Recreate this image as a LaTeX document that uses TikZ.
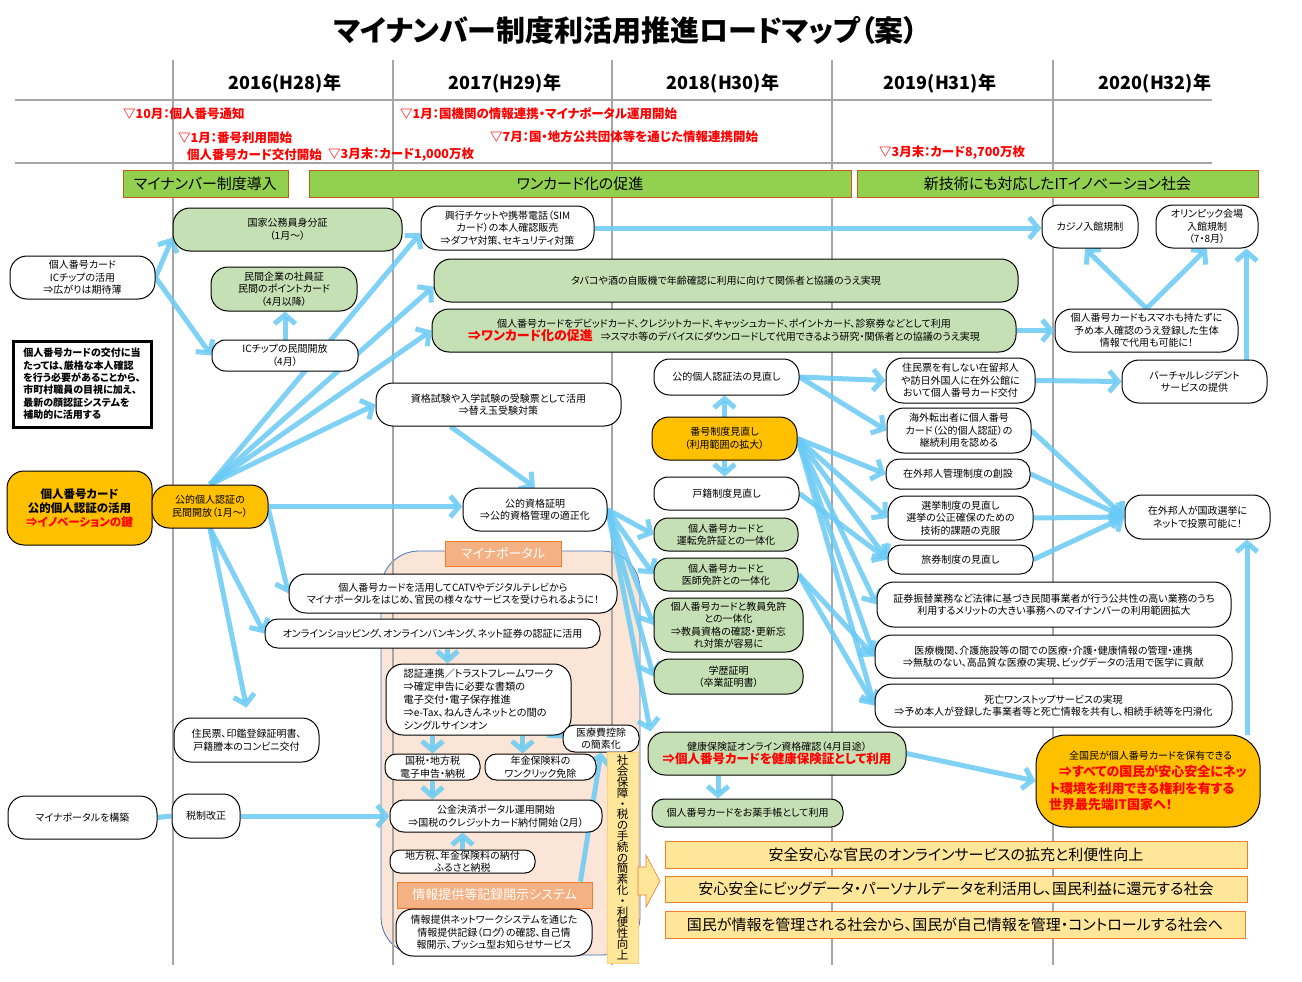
\documentclass[tikz,border=0pt]{standalone}
\usepackage{fontspec}
\setmainfont{Noto Sans CJK JP}[RawFeature={+palt}]
\usetikzlibrary{arrows.meta,calc}
\pgfdeclarelayer{bg}
\pgfdeclarelayer{arrl}
\pgfsetlayers{bg,arrl,main}
\definecolor{abl}{RGB}{105,203,245}
\definecolor{gfill}{RGB}{197,224,180}
\definecolor{ofill}{RGB}{255,192,0}
\definecolor{phase}{RGB}{146,208,80}
\definecolor{phaseb}{RGB}{197,90,17}
\definecolor{yfill}{RGB}{255,230,153}
\definecolor{yborder}{RGB}{237,125,49}
\definecolor{peach}{RGB}{251,229,214}
\definecolor{peachb}{RGB}{68,114,196}
\definecolor{lblfill}{RGB}{244,177,131}
\definecolor{gline}{RGB}{166,166,166}
\definecolor{mred}{RGB}{255,0,0}
\newcommand\RMbox[7]{%
 \pgfmathsetmacro\bxcx{(#2+#4)/2}%
 \pgfmathsetmacro\bxcy{(#3+#5)/2}%
 \pgfmathsetmacro\bxw{#4-#2}%
 \pgfmathsetmacro\bxh{#5-#3}%
 \pgfmathsetmacro\bxr{min(17,\bxh/2.3)}%
 \node[rounded corners=\bxr pt, #6, minimum width=\bxw pt, minimum height=\bxh pt] (#1) at (\bxcx,\bxcy) {#7};}
\tikzset{
 bsty/.style={align=center, inner sep=0pt, font=\fontsize{10}{12.5}\selectfont, line width=1pt},
 boxw/.style={bsty, draw, fill=white},
 boxg/.style={bsty, draw, fill=gfill},
 boxo/.style={bsty, draw, fill=ofill},
 phbar/.style={sharp corners, draw=phaseb, fill=phase, line width=1pt, inner sep=0pt, font=\fontsize{15}{17}\selectfont},
 ybar/.style={sharp corners, draw=yborder, fill=yfill, line width=1pt, inner sep=0pt, font=\fontsize{15}{17}\selectfont},
 lblbox/.style={sharp corners, draw=yborder, fill=lblfill, text=white, inner sep=0pt, line width=0.8pt, font=\fontsize{13}{15}\selectfont},
 redtxt/.style={text=mred, font=\bfseries\fontsize{12.5}{14}\selectfont, anchor=west, inner sep=0pt},
 yeartxt/.style={font=\bfseries\fontsize{18}{20}\selectfont, inner sep=0pt},
 barr/.style={draw=abl, line width=5pt, draw opacity=0.85, -{Straight Barb[length=9pt,width=21pt]}},
 bline/.style={draw=abl, line width=5pt, draw opacity=0.85},
}
\begin{document}
\begin{tikzpicture}[x=1pt,y=-1pt]
\useasboundingbox (0,0) rectangle (1302,982);
\begin{pgfonlayer}{bg}
\fill[white] (0,0) rectangle (1302,982);
\draw[fill=peach, draw=peachb, line width=0.8pt, rounded corners=38pt] (381,551) rectangle (640,955);
\foreach \xx in {173,393,612,832,1053} \draw[gline, line width=1.5pt] (\xx,60) -- (\xx,965);
\draw[gline, line width=2pt] (15,100) -- (1212,100);
\draw[gline, line width=2pt] (15,163) -- (1212,163);
\end{pgfonlayer}

\node[font=\bfseries\fontsize{29}{33}\selectfont] (title) at (626,30) {マイナンバー制度利活用推進ロードマップ（案）};
\node[yeartxt] (y16) at (285,84) {2016(H28)年};
\node[yeartxt] (y17) at (505,84) {2017(H29)年};
\node[yeartxt] (y18) at (723,84) {2018(H30)年};
\node[yeartxt] (y19) at (940,84) {2019(H31)年};
\node[yeartxt] (y20) at (1155,84) {2020(H32)年};

\node[redtxt] (m1) at (123,114) {▽10月：個人番号通知};
\node[redtxt] (m2) at (178,138) {▽1月：番号利用開始};
\node[redtxt] (m3) at (187,155) {個人番号カード交付開始};
\node[redtxt] (m4) at (328,155) {▽3月末：カード1,000万枚};
\node[redtxt] (m5) at (400,114) {▽1月：国機関の情報連携・マイナポータル運用開始};
\node[redtxt] (m6) at (490,137) {▽7月：国・地方公共団体等を通じた情報連携開始};
\node[redtxt] (m7) at (879,153) {▽3月末：カード8,700万枚};

\RMbox{p1}{123}{170}{288}{197}{phbar}{マイナンバー制度導入}
\RMbox{p2}{309}{170}{851}{197}{phbar}{ワンカード化の促進}
\RMbox{p3}{857}{170}{1258}{197}{phbar}{新技術にも対応したITイノベーション社会}

\RMbox{ic}{10}{256}{155}{299}{boxw}{個人番号カード\\ICチップの活用\\⇒広がりは期待薄}
\RMbox{kokka}{173}{208}{402}{251}{boxg}{国家公務員身分証\\（1月～）}
\RMbox{minkan}{211}{267}{357}{311}{boxg}{民間企業の社員証\\民間のポイントカード\\（4月以降）}
\RMbox{icopen}{212}{340}{358}{371}{boxw}{ICチップの民間開放\\（4月）}
\RMbox{note}{13}{341}{151}{427}{sharp corners, draw, fill=white, line width=3pt, align=left, inner sep=0pt, font=\bfseries\fontsize{10}{12.4}\selectfont}{個人番号カードの交付に当\\たっては、厳格な本人確認\\を行う必要があることから、\\市町村職員の目視に加え、\\最新の顔認証システムを\\補助的に活用する}
\RMbox{key}{7}{471}{152}{545}{boxo, font=\bfseries\fontsize{11.5}{14}\selectfont}{個人番号カード\\公的個人認証の活用\\{\color{mred}⇒イノベーションの鍵}}
\RMbox{jpki}{152}{485}{268}{528}{boxo}{公的個人認証の\\民間開放（1月～）}
\RMbox{ticket}{421}{206}{594}{250}{boxw}{興行チケットや携帯電話（SIM\\カード）の本人確認販売\\⇒ダフヤ対策、セキュリティ対策}
\RMbox{tabaco}{434}{259}{1018}{302}{boxg}{タバコや酒の自販機で年齢確認に利用に向けて関係者と協議のうえ実現}
\RMbox{onecard}{432}{309}{1016}{352}{boxg}{個人番号カードをデビッドカード、クレジットカード、キャッシュカード、ポイントカード、診察券などとして利用\\{\color{mred}\bfseries\fontsize{13}{15}\selectfont ⇒ワンカード化の促進}\hspace{8pt}⇒スマホ等のデバイスにダウンロードして代用できるよう研究・関係者との協議のうえ実現}
\RMbox{shikaku}{376}{383}{621}{426}{boxw}{資格試験や入学試験の受験票として活用\\⇒替え玉受験対策}
\RMbox{koteki}{463}{488}{607}{531}{boxw}{公的資格証明\\⇒公的資格管理の適正化}
\RMbox{jpkilaw}{654}{359}{799}{395}{boxw}{公的個人認証法の見直し}
\RMbox{bango}{652}{417}{797}{460}{boxo}{番号制度見直し\\（利用範囲の拡大）}
\RMbox{koseki}{654}{477}{799}{510}{boxw}{戸籍制度見直し}
\RMbox{unten}{654}{518}{798}{551}{boxg}{個人番号カードと\\運転免許証との一体化}
\RMbox{ishi}{654}{558}{798}{591}{boxg}{個人番号カードと\\医師免許との一体化}
\RMbox{kyoin}{654}{598}{803}{652}{boxg}{個人番号カードと教員免許\\との一体化\\⇒教員資格の確認・更新忘\\れ対策が容易に}
\RMbox{gakureki}{654}{659}{803}{694}{boxg}{学歴証明\\（卒業証明書）}
\RMbox{zairyu}{886}{358}{1035}{403}{boxw}{住民票を有しない在留邦人\\や訪日外国人に在外公館に\\おいて個人番号カード交付}
\RMbox{kaigai}{887}{408}{1031}{453}{boxw}{海外転出者に個人番号\\カード（公的個人認証）の\\継続利用を認める}
\RMbox{zaigai}{886}{459}{1030}{489}{boxw}{在外邦人管理制度の創設}
\RMbox{senkyo}{888}{496}{1033}{540}{boxw}{選挙制度の見直し\\選挙の公正確保のための\\技術的課題の克服}
\RMbox{ryoken}{888}{545}{1033}{574}{boxw}{旅券制度の見直し}
\RMbox{shoken}{877}{582}{1231}{627}{boxw}{証券振替業務など法律に基づき民間事業者が行う公共性の高い業務のうち\\利用するメリットの大きい事務へのマイナンバーの利用範囲拡大}
\RMbox{iryo}{875}{635}{1232}{678}{boxw}{医療機関、介護施設等の間での医療・介護・健康情報の管理・連携\\⇒無駄のない、高品質な医療の実現、ビッグデータの活用で医学に貢献}
\RMbox{shibo}{875}{684}{1232}{727}{boxw}{死亡ワンストップサービスの実現\\⇒予め本人が登録した事業者等と死亡情報を共有し、相続手続等を円滑化}
\RMbox{casino}{1042}{205}{1138}{248}{boxw}{カジノ入館規制}
\RMbox{olympic}{1156}{205}{1258}{248}{boxw}{オリンピック会場\\入館規制\\（7・8月）}
\RMbox{seitai}{1055}{309}{1238}{352}{boxw}{個人番号カードもスマホも持たずに\\予め本人確認のうえ登録した生体\\情報で代用も可能に！}
\RMbox{virtual}{1122}{360}{1267}{403}{boxw}{バーチャルレジデント\\サービスの提供}
\RMbox{netvote}{1125}{495}{1270}{539}{boxw}{在外邦人が国政選挙に\\ネットで投票可能に！}
\RMbox{goal}{1036}{735}{1260}{827}{boxo, rounded corners=30pt, align=left, font=\bfseries\fontsize{13}{16.5}\selectfont}{\hspace*{20pt}{\mdseries\fontsize{10}{12.5}\selectfont 全国民が個人番号カードを保有できる}\\[1pt]{\color{mred}\hspace*{10pt}⇒すべての国民が安心安全にネッ}\\{\color{mred}ト環境を利用できる権利を有する}\\{\color{mred}世界最先端IT国家へ！}}
\RMbox{kenpo}{648}{732}{906}{775}{boxg}{健康保険証オンライン資格確認（4月目途）\\{\color{mred}\bfseries\fontsize{12.5}{14}\selectfont ⇒個人番号カードを健康保険証として利用}}
\RMbox{okusuri}{652}{799}{843}{827}{boxg}{個人番号カードをお薬手帳として利用}
\RMbox{catv}{289}{574}{617}{613}{boxw}{個人番号カードを活用してCATVやデジタルテレビから\\マイナポータルをはじめ、官民の様々なサービスを受けられるように！}
\RMbox{online}{265}{619}{600}{648}{boxw}{オンラインショッピング、オンラインバンキング、ネット証券の認証に活用}
\RMbox{juminhyo}{174}{718}{319}{762}{boxw}{住民票、印鑑登録証明書、\\戸籍謄本のコンビニ交付}
\RMbox{build}{8}{796}{157}{839}{boxw}{マイナポータルを構築}
\RMbox{zeisei}{172}{794}{240}{838}{boxw}{税制改正}
\RMbox{mplabel}{445}{541}{561}{566}{lblbox}{マイナポータル}
\RMbox{ninsho}{386}{664}{571}{735}{boxw, align=left, font=\fontsize{10.2}{12.8}\selectfont}{認証連携／トラストフレームワーク\\⇒確定申告に必要な書類の\\電子交付・電子保存推進\\⇒e-Tax、ねんきんネットとの間の\\シングルサインオン}
\RMbox{iryohi}{563}{725}{639}{752}{boxw}{医療費控除\\の簡素化}
\RMbox{kokuzei}{385}{754}{480}{780}{boxw}{国税・地方税\\電子申告・納税}
\RMbox{nenkin}{485}{754}{596}{780}{boxw}{年金保険料の\\ワンクリック免除}
\RMbox{kokin}{390}{800}{602}{832}{boxw}{公金決済ポータル運用開始\\⇒国税のクレジットカード納付開始（2月）}
\RMbox{chihozei}{390}{850}{535}{873}{boxw}{地方税、年金保険料の納付\\ふるさと納税}
\RMbox{joholabel}{397}{882}{592}{908}{lblbox}{情報提供等記録開示システム}
\RMbox{joho}{396}{909}{592}{956}{boxw}{情報提供ネットワークシステムを通じた\\情報提供記録（ログ）の確認、自己情\\報開示、プッシュ型お知らせサービス}

\RMbox{strip}{607}{752}{638}{963}{sharp corners, draw=yfill!80!orange, fill=yfill, line width=0.6pt, inner sep=0pt}{}
\node[align=center, inner sep=0pt, font=\fontsize{11.5}{10.8}\selectfont] (striptxt) at (strip.center) {社\\会\\保\\障\\・\\税\\の\\手\\続\\の\\簡\\素\\化\\・\\利\\便\\性\\向\\上};
\draw[fill=yfill, draw=yborder, line width=0.6pt] (638,867) -- (646,867) -- (646,855) -- (660,881) -- (646,907) -- (646,895) -- (638,895) -- cycle;

\RMbox{g1b}{665}{841}{1247}{868}{ybar}{安全安心な官民のオンラインサービスの拡充と利便性向上}
\RMbox{g2b}{665}{876}{1247}{902}{ybar}{安心安全にビッグデータ・パーソナルデータを利活用し、国民利益に還元する社会}
\RMbox{g3b}{665}{911}{1245}{938}{ybar}{国民が情報を管理される社会から、国民が自己情報を管理・コントロールする社会へ}

\begin{pgfonlayer}{arrl}
\draw[barr] (ic.east) -- ([yshift=-8pt]kokka.west);
\draw[barr] (ic.east) -- (icopen.west);
\draw[barr] (icopen.north) -- (icopen.north |- minkan.south);
\draw[bline] (key.east) -- (jpki.west);
\draw[barr] (jpki.north) -- ([yshift=-5pt]ticket.west);
\draw[barr] (jpki.north) -- ([yshift=-6pt]tabaco.west);
\draw[barr] (jpki.north) -- (onecard.west);
\draw[barr] (jpki.north) -- (shikaku.west);
\draw[barr] (jpki.east) -- (jpki.east -| koteki.west);
\draw[barr] ([yshift=-3pt]jpki.east) -- (catv.west);
\draw[barr] (jpki.south) -- (online.west);
\draw[barr] (jpki.south) -- ([yshift=10pt]juminhyo.north);
\draw[barr] ([xshift=-48pt]shikaku.south) -- (koteki.north);
\draw[barr] (ticket.east) -- (ticket.east -| casino.west);
\draw[barr] (onecard.east) -- (seitai.west);
\draw[barr] (seitai.north) -- ([xshift=-5pt]casino.south);
\draw[barr] (seitai.north) -- (olympic.south);
\coordinate (v1) at ([xshift=52pt]virtual.north);
\draw[barr] (v1) -- (v1 |- olympic.south);
\draw[barr] (zairyu.east) -- (virtual.west);
\draw[barr] (bango.north) -- (bango.north |- jpkilaw.south);
\draw[barr] (bango.south) -- (bango.south |- koseki.north);
\draw[barr] (jpkilaw.east) -- (zairyu.west);
\draw[barr] (jpkilaw.east) -- (kaigai.west);
\foreach \tg in {zaigai,senkyo,ryoken,shoken,iryo,shibo} \draw[barr] (bango.east) -- (\tg.west);
\draw[barr] (koseki.east) -- (ryoken.west);
\draw[barr] (ishi.east) -- (iryo.west);
\draw[barr] (ishi.east) -- (shibo.west);
\foreach \sr in {kaigai,zaigai,senkyo,ryoken} \draw[barr] (\sr.east) -- (netvote.west);
\coordinate (g1) at ([xshift=99pt]goal.north);
\draw[barr] (g1) -- (g1 |- netvote.south);
\draw[barr] (kenpo.east) -- (goal.west);
\coordinate (k1) at ([xshift=-59pt]kenpo.south);
\draw[barr] (k1) -- (k1 |- okusuri.north);
\foreach \tg in {unten,ishi,kyoin,gakureki} \draw[barr] (koteki.east) -- (\tg.west);
\draw[barr] (koteki.east) -- ([xshift=3pt]kenpo.north west);
\coordinate (o1) at ([xshift=15pt]online.south);
\draw[barr] (o1) -- (o1 |- ninsho.north);
\draw[barr] (kokuzei.north |- ninsho.south) -- (kokuzei.north);
\coordinate (n1) at ([xshift=-18pt]nenkin.north);
\draw[barr] (n1 |- ninsho.south) -- (n1);
\draw[barr] ([xshift=-22pt,yshift=14pt]ninsho.south east) -- (iryohi.west);
\draw[barr] (kokuzei.south) -- (kokuzei.south |- kokin.north);
\draw[bline] (build.east) -- (zeisei.west);
\draw[barr] (zeisei.east) -- (zeisei.east -| kokin.west);
\draw[barr] (chihozei.north) -- (chihozei.north |- kokin.south);
\draw[barr] ([xshift=-12pt]joholabel.north east) -- (iryohi.south);
\end{pgfonlayer}
\end{tikzpicture}
\end{document}
